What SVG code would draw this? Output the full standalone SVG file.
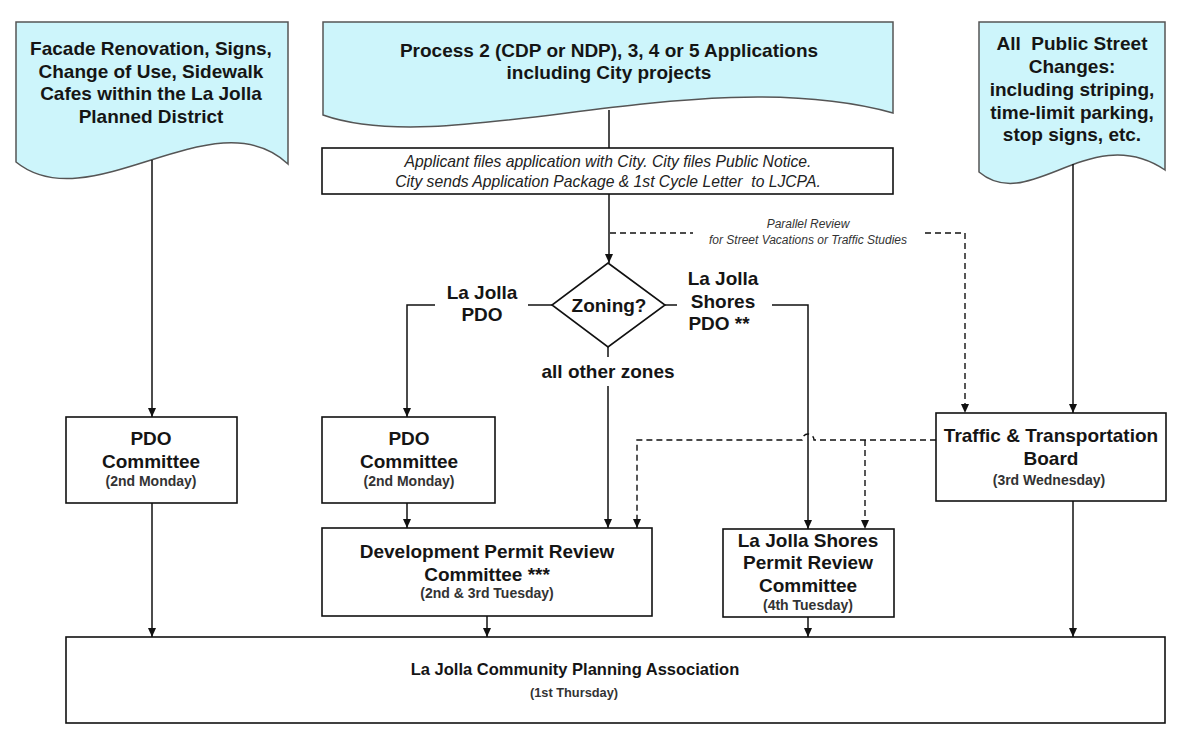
<svg xmlns="http://www.w3.org/2000/svg" width="1200" height="735" viewBox="0 0 1200 735">
<defs>
<marker id="arr" viewBox="0 0 9 8" markerWidth="9" markerHeight="8" refX="9" refY="4" orient="auto" markerUnits="userSpaceOnUse">
<path d="M0,0 L9,4 L0,8 z" fill="#111"/>
</marker>
<style>
.doc{fill:#cdf5fb;stroke:#555;stroke-width:1.5}
.box{fill:#fff;stroke:#111;stroke-width:1.6}
.t{font-family:"Liberation Sans",Arial,sans-serif;font-weight:bold;font-size:19px;fill:#151515;text-anchor:middle}
.s{font-family:"Liberation Sans",Arial,sans-serif;font-weight:bold;font-size:14px;fill:#333;text-anchor:middle}
.i{font-family:"Liberation Sans",Arial,sans-serif;font-style:italic;font-size:15.7px;fill:#222;text-anchor:middle}
.pi{font-family:"Liberation Sans",Arial,sans-serif;font-style:italic;font-size:12px;fill:#333;text-anchor:middle}
.ln{fill:none;stroke:#111;stroke-width:1.5}
.dl{fill:none;stroke:#111;stroke-width:1.4;stroke-dasharray:6,4}
</style>
</defs>
<rect width="1200" height="735" fill="#fff"/>

<g id="doc-left">
<path class="doc" d="M16,22 H288 V164 C215,95 90,222 16,162 Z"/>
<text class="t" x="151" y="55">Facade Renovation, Signs,</text>
<text class="t" x="151" y="78">Change of Use, Sidewalk</text>
<text class="t" x="151" y="100">Cafes within the La Jolla</text>
<text class="t" x="151" y="123">Planned District</text>
</g>

<g id="doc-middle">
<path class="doc" d="M323,22 H893 V113 C700,60 450,160 323,115 Z"/>
<text class="t" x="609" y="57">Process 2 (CDP or NDP), 3, 4 or 5 Applications</text>
<text class="t" x="609" y="79">including City projects</text>
</g>

<g id="doc-right">
<path class="doc" d="M979,22 H1165 V170 C1090,120 1030,215 979,172 Z"/>
<text class="t" x="1072" y="50">All&#160; Public Street</text>
<text class="t" x="1072" y="73">Changes:</text>
<text class="t" x="1072" y="96">including striping,</text>
<text class="t" x="1072" y="119">time-limit parking,</text>
<text class="t" x="1072" y="141">stop signs, etc.</text>
</g>

<g id="application">
<rect class="box" x="322" y="148" width="571" height="46"/>
<text class="i" x="608" y="167">Applicant files application with City. City files Public Notice.</text>
<text class="i" x="608" y="187">City sends Application Package &amp; 1st Cycle Letter&#160; to LJCPA.</text>
</g>

<g id="zoning">
<path class="box" d="M608,263 L665,305 L608,347 L552,305 Z"/>
<text class="t" x="609" y="312">Zoning?</text>
</g>

<g id="pdo-left">
<rect class="box" x="66" y="417" width="171" height="86"/>
<text class="t" x="151" y="445">PDO</text>
<text class="t" x="151" y="468">Committee</text>
<text class="s" x="151" y="486">(2nd Monday)</text>
</g>

<g id="pdo-middle">
<rect class="box" x="322" y="417" width="173" height="86"/>
<text class="t" x="409" y="445">PDO</text>
<text class="t" x="409" y="468">Committee</text>
<text class="s" x="409" y="486">(2nd Monday)</text>
</g>

<g id="dprc">
<rect class="box" x="322" y="528" width="330" height="88"/>
<text class="t" x="487" y="558">Development Permit Review</text>
<text class="t" x="487" y="581">Committee ***</text>
<text class="s" x="487" y="598">(2nd &amp; 3rd Tuesday)</text>
</g>

<g id="ljs-prc">
<rect class="box" x="723" y="529" width="171" height="88"/>
<text class="t" x="808" y="547">La Jolla Shores</text>
<text class="t" x="808" y="569">Permit Review</text>
<text class="t" x="808" y="592">Committee</text>
<text class="s" x="808" y="610">(4th Tuesday)</text>
</g>

<g id="traffic">
<rect class="box" x="936" y="413" width="230" height="88"/>
<text class="t" x="1051" y="442">Traffic &amp; Transportation</text>
<text class="t" x="1051" y="465">Board</text>
<text class="s" x="1049" y="485">(3rd Wednesday)</text>
</g>

<g id="ljcpa">
<rect class="box" x="66" y="637" width="1099" height="86"/>
<text class="t" x="575" y="675" style="font-size:16.5px">La Jolla Community Planning Association</text>
<text class="s" x="574" y="697" style="font-size:12.8px">(1st Thursday)</text>
</g>

<g id="labels">
<text class="t" x="482" y="299">La Jolla</text>
<text class="t" x="482" y="321">PDO</text>
<text class="t" x="723" y="285">La Jolla</text>
<text class="t" x="723" y="308">Shores</text>
<text class="t" x="719" y="330">PDO **</text>
<text class="t" x="608" y="378">all other zones</text>
<text class="pi" x="808" y="228">Parallel Review</text>
<text class="pi" x="808" y="244">for Street Vacations or Traffic Studies</text>
</g>

<g id="connectors">
<path class="ln" d="M152,160 V417" marker-end="url(#arr)"/>
<path class="ln" d="M609,110 V148"/>
<path class="ln" d="M609,194 V263" marker-end="url(#arr)"/>
<path class="ln" d="M552,305 H528"/>
<path class="ln" d="M435,305 H407 V417" marker-end="url(#arr)"/>
<path class="ln" d="M665,305 H677"/>
<path class="ln" d="M772,305 H808 V529" marker-end="url(#arr)"/>
<path class="ln" d="M608,347 V357"/>
<path class="ln" d="M608,386 V528" marker-end="url(#arr)"/>
<path class="ln" d="M407,503 V528" marker-end="url(#arr)"/>
<path class="ln" d="M1073,164 V413" marker-end="url(#arr)"/>
<path class="ln" d="M152,503 V637" marker-end="url(#arr)"/>
<path class="ln" d="M487,616 V637" marker-end="url(#arr)"/>
<path class="ln" d="M808,617 V637" marker-end="url(#arr)"/>
<path class="ln" d="M1073,501 V637" marker-end="url(#arr)"/>
<path class="dl" d="M610,233 H693"/>
<path class="dl" d="M925,233 H965 V413" marker-end="url(#arr)"/>
<path class="dl" d="M936,440 H814 A6,6 0 0 0 802,440 H637 V528" marker-end="url(#arr)"/>
<path class="dl" d="M865,440 V529" marker-end="url(#arr)"/>
</g>
</svg>
